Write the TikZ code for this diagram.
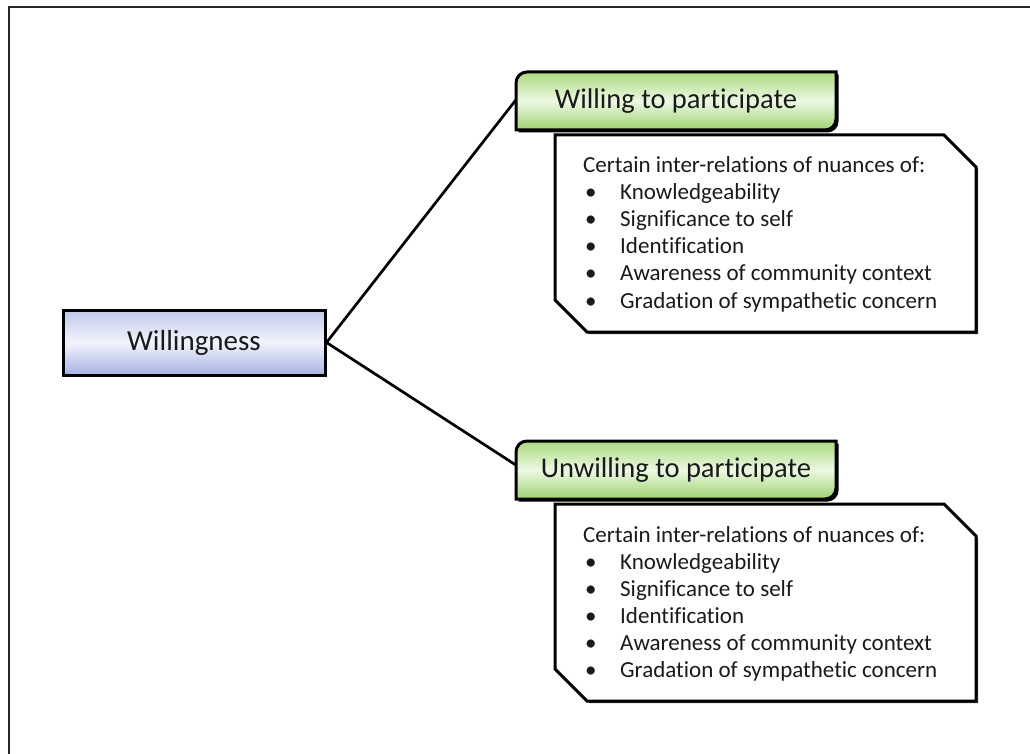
\documentclass[tikz,border=0pt]{standalone}
\usepackage{fontspec}
\setmainfont{Carlito}[Ligatures=NoCommon]
\pgfdeclarelayer{background}
\pgfsetlayers{background,main}
\definecolor{rootTop}{RGB}{192,200,236}
\definecolor{rootMid}{RGB}{242,244,252}
\definecolor{rootBot}{RGB}{166,178,228}
\definecolor{headTop}{RGB}{170,218,128}
\definecolor{headMid}{RGB}{236,248,226}
\definecolor{headBot}{RGB}{158,210,112}
\definecolor{inkText}{RGB}{26,26,26}
\begin{document}
\begin{tikzpicture}[x=1pt,y=-1pt,
  frameline/.style={draw=black!85, line width=2pt},
  link/.style={draw=black, line width=2.7pt},
  rootbox/.style={draw=black, line width=3pt, top color=rootTop, bottom color=rootBot, middle color=rootMid,
    minimum width=262pt, minimum height=65pt, inner sep=0pt, text=inkText,
    font=\fontsize{29}{34}\selectfont},
  headshape/.style={draw=black, line width=3pt, top color=headTop, bottom color=headBot, middle color=headMid},
  headshadow/.style={fill=black},
  headtext/.style={minimum width=320pt, minimum height=58pt, inner sep=0pt, text=inkText,
    font=\fontsize{28.5}{34}\selectfont},
  notebox/.style={draw=black, line width=3pt, fill=white},
  noteshadow/.style={fill=black!70},
  notetext/.style={anchor=base west, inner sep=0pt, text=inkText}
]
\useasboundingbox (0,0) rectangle (1030,754);
\begin{pgfonlayer}{background}
\fill[white] (0,0) rectangle (1030,754);
\end{pgfonlayer}
% outer frame (only top and left visible)
\draw[frameline] (8.5,754) -- (8.5,7.5) -- (1030,7.5);

% root
\node[rootbox] (root) at (194,342.5) {Willingness};

% heading 1
\fill[headshadow] (518.5,132.5) -- (518.5,85.5) arc (180:270:11) -- (838.5,74.5) -- (838.5,121.5) arc (0:90:11) -- cycle;
\path[headshape] (516,130) -- (516,83) arc (180:270:11) -- (836,72) -- (836,119) arc (0:90:11) -- cycle;
\node[headtext] (h1) at (676,101) {Willing to participate};

% note 1
\fill[noteshadow] (557,137) -- (946,137) -- (978,169) -- (978,334) -- (589,334) -- (557,302) -- cycle;
\path[notebox] (555,135) -- (944,135) -- (976,167) -- (976,332) -- (587,332) -- (555,300) -- cycle;
\node[notetext] (n1) at (583,173) {\begin{minipage}[t]{390pt}\fontsize{23}{27}\selectfont
Certain inter-relations of nuances of:\\
\makebox[37pt][l]{\hspace{2pt}\textbullet}Knowledgeability\\
\makebox[37pt][l]{\hspace{2pt}\textbullet}Significance to self\\
\makebox[37pt][l]{\hspace{2pt}\textbullet}Identification\\
\makebox[37pt][l]{\hspace{2pt}\textbullet}Awareness of community context\\
\makebox[37pt][l]{\hspace{2pt}\textbullet}Gradation of sympathetic concern
\end{minipage}};

% heading 2
\fill[headshadow] (518.5,501.5) -- (518.5,454.5) arc (180:270:11) -- (838.5,443.5) -- (838.5,490.5) arc (0:90:11) -- cycle;
\path[headshape] (516,499) -- (516,452) arc (180:270:11) -- (836,441) -- (836,488) arc (0:90:11) -- cycle;
\node[headtext] (h2) at (676,470) {Unwilling to participate};

% note 2
\fill[noteshadow] (557,506) -- (946,506) -- (978,538) -- (978,703) -- (589,703) -- (557,671) -- cycle;
\path[notebox] (555,504) -- (944,504) -- (976,536) -- (976,701) -- (587,701) -- (555,669) -- cycle;
\node[notetext] (n2) at (583,542) {\begin{minipage}[t]{390pt}\fontsize{23}{27}\selectfont
Certain inter-relations of nuances of:\\
\makebox[37pt][l]{\hspace{2pt}\textbullet}Knowledgeability\\
\makebox[37pt][l]{\hspace{2pt}\textbullet}Significance to self\\
\makebox[37pt][l]{\hspace{2pt}\textbullet}Identification\\
\makebox[37pt][l]{\hspace{2pt}\textbullet}Awareness of community context\\
\makebox[37pt][l]{\hspace{2pt}\textbullet}Gradation of sympathetic concern
\end{minipage}};

% connectors
\begin{pgfonlayer}{background}
\draw[link] (root.east) -- ([yshift=1pt]h1.west);
\draw[link] (root.east) -- ([yshift=5pt]h2.west);
\end{pgfonlayer}
\end{tikzpicture}
\end{document}
